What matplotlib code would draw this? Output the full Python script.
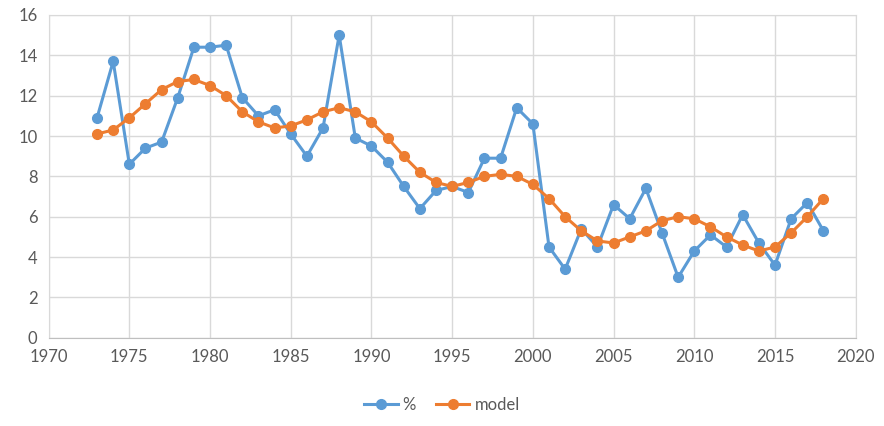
import numpy as np
import matplotlib.pyplot as plt

plt.rcParams['font.family'] = ['Lato', 'DejaVu Sans']

years = list(range(1973, 2019))
pct = [10.9, 13.7, 8.6, 9.4, 9.7, 11.9, 14.4, 14.4, 14.5, 11.9,
       11.0, 11.3, 10.1, 9.0, 10.4, 15.0, 9.9, 9.5, 8.7, 7.5,
       6.4, 7.3, 7.5, 7.2, 8.9, 8.9, 11.4, 10.6, 4.5, 3.4,
       5.4, 4.5, 6.6, 5.9, 7.4, 5.2, 3.0, 4.3, 5.1, 4.5,
       6.1, 4.7, 3.6, 5.9, 6.7, 5.3]
model = [10.1, 10.3, 10.9, 11.6, 12.3, 12.7, 12.8, 12.5, 12.0, 11.2,
         10.7, 10.4, 10.5, 10.8, 11.2, 11.4, 11.2, 10.7, 9.9, 9.0,
         8.2, 7.7, 7.5, 7.7, 8.0, 8.1, 8.0, 7.6, 6.9, 6.0,
         5.3, 4.8, 4.7, 5.0, 5.3, 5.8, 6.0, 5.9, 5.5, 5.0,
         4.6, 4.3, 4.5, 5.2, 6.0, 6.9]

blue = '#5B9BD5'
orange = '#ED7D31'

fig = plt.figure(figsize=(8.84, 4.26), dpi=100)
ax = fig.add_axes([0.055, 0.207, 0.913, 0.758])

ax.plot(years, pct, color=blue, lw=2.2, marker='o', ms=7, label='%', zorder=3)
ax.plot(years, model, color=orange, lw=2.2, marker='o', ms=7, label='model', zorder=4)

ax.set_xlim(1970, 2020)
ax.set_ylim(0, 16)
ax.set_xticks(range(1970, 2021, 5))
ax.set_yticks(range(0, 17, 2))
ax.grid(True, color='#d9d9d9', lw=1)
ax.set_axisbelow(True)
for s in ax.spines.values():
    s.set_color('#d9d9d9')
ax.spines['bottom'].set_color('#bfbfbf')
ax.tick_params(length=0, colors='#595959', labelsize=12, pad=8)

fig.legend(loc='lower center', bbox_to_anchor=(0.5, -0.005), ncol=2, frameon=False,
           fontsize=12, labelcolor='#595959', handlelength=2.0, handletextpad=0.3,
           columnspacing=1.2)

fig.savefig('out.png', dpi=100)
